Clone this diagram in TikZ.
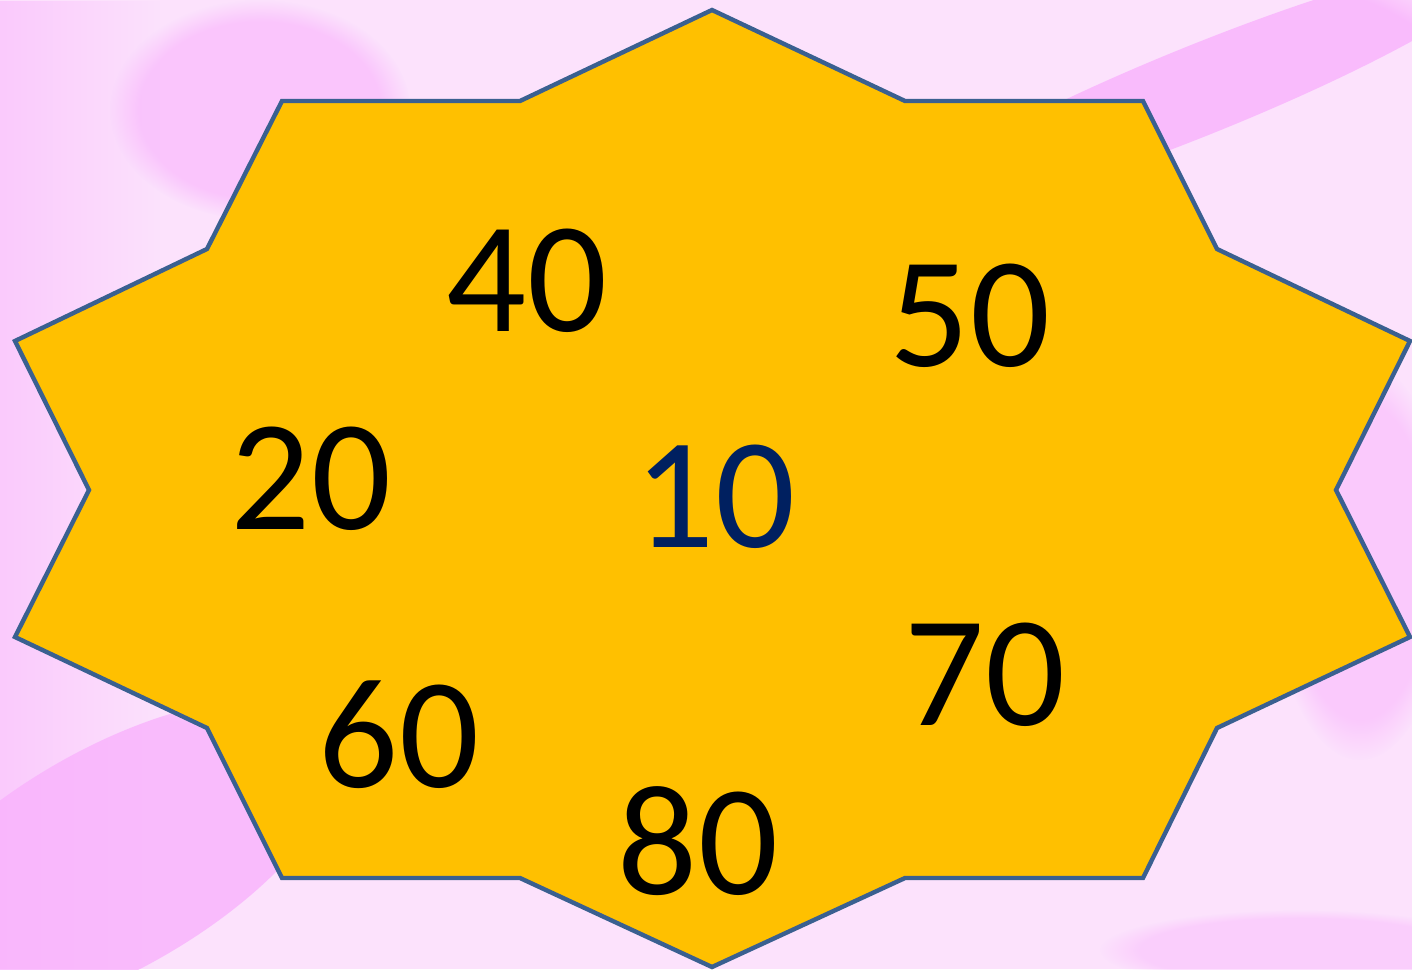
\documentclass[tikz,border=0pt]{standalone}
\usepackage{fontspec}
\setmainfont{Carlito}
\usetikzlibrary{fadings}
\definecolor{starfill}{HTML}{FFC000}
\definecolor{starline}{HTML}{3A6090}
\definecolor{navy}{HTML}{002060}
\definecolor{pinkbase}{HTML}{FCE2FC}
\definecolor{pinkdeep}{HTML}{F9B2FC}

\begin{document}
\begin{tikzpicture}[x=0.5pt, y=-0.5pt,
    num/.style={font=\fontsize{79}{79}\selectfont, text=black, inner sep=0pt},
    glow/.style={pinkdeep, path fading=circle with fuzzy edge 20 percent}]
    % Background
    \useasboundingbox (0,0) rectangle (1412,969);
    \fill[pinkbase] (0,0) rectangle (1412,969);
    \fill[pinkdeep, opacity=0.5, path fading=east] (0,0) rectangle (160,969);
    \fill[glow, opacity=0.8, rotate around={22:(1200,90)}] (1200,90) ellipse (330 and 45);
    \fill[glow, opacity=0.8, rotate around={30:(110,860)}] (110,860) ellipse (260 and 110);
    \fill[glow, opacity=0.6] (260,110) ellipse (150 and 110);
    \fill[glow, opacity=0.5] (1360,560) ellipse (90 and 200);
    \fill[glow, opacity=0.4] (1300,950) ellipse (200 and 40);

    % Draw star
    \draw[starline, fill=starfill, line width=2.2pt, line join=miter]
        (712,10) -- (905,101) -- (1143,101) -- (1217,249) -- (1410,341)
        -- (1336,490) -- (1410,637) -- (1217,728) -- (1143,878) -- (905,878)
        -- (712,967) -- (520,878) -- (282,878) -- (207,728) -- (15,637)
        -- (89,490) -- (15,341) -- (207,249) -- (282,101) -- (520,101) -- cycle;

    % Draw numbers
    \node[num] (n40) at (527,281) {40};
    \node[num] (n50) at (970,316) {50};
    \node[num] (n20) at (311,479) {20};
    \node[num, text=navy] (n10) at (715,497) {10};
    \node[num] (n70) at (985,675) {70};
    \node[num] (n60) at (399,735) {60};
    \node[num] (n80) at (698,841) {80};
\end{tikzpicture}
\end{document}
